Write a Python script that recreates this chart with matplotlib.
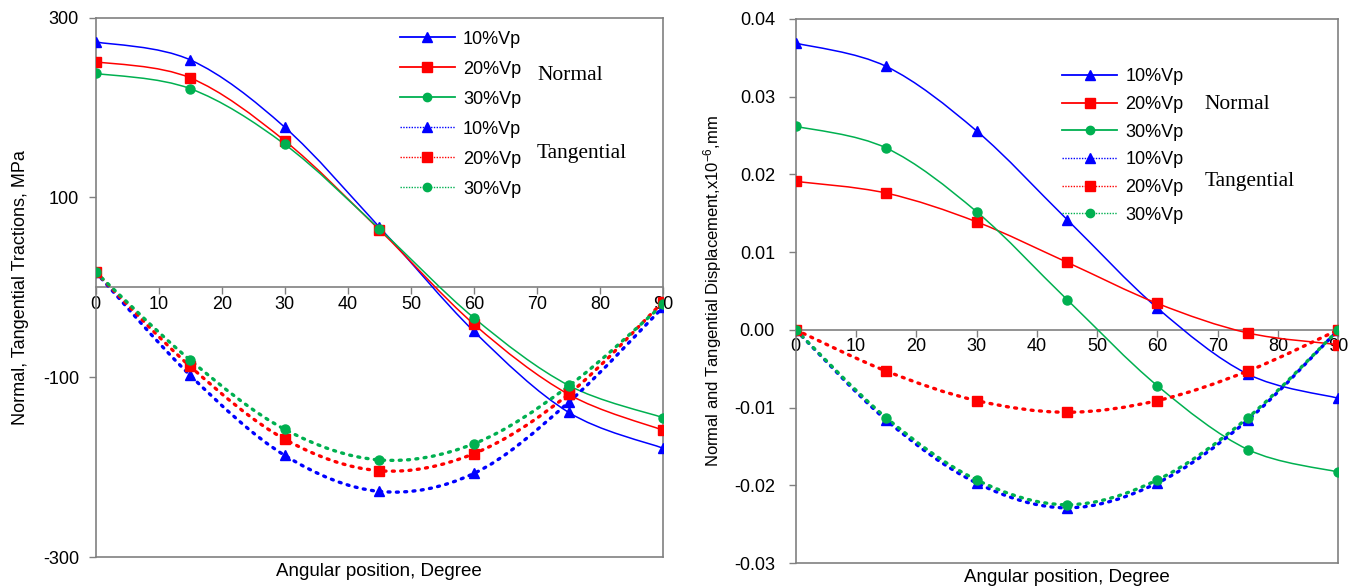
import numpy as np
import matplotlib
matplotlib.use("Agg")
import matplotlib.pyplot as plt
from matplotlib.path import Path
from matplotlib.patches import PathPatch
from matplotlib.lines import Line2D

plt.rcParams["font.family"] = ["Liberation Sans", "DejaVu Sans"]
plt.rcParams["mathtext.fontset"] = "custom"
plt.rcParams["mathtext.rm"] = "Liberation Sans"
plt.rcParams["mathtext.default"] = "regular"

# ── data ──
angle = [0, 15, 30, 45, 60, 75, 90]
labels = ["10%Vp", "20%Vp", "30%Vp"]

# left: tractions, MPa
trac_normal = [
    [273, 253, 178, 67, -49, -139, -179],
    [251, 233, 163, 64, -41, -119, -159],
    [238, 221, 159, 65, -34, -109, -145],
]
trac_tang = [
    [17, -98, -187, -227, -207, -128, -22],
    [17, -88, -169, -204, -185, -119, -16],
    [17, -81, -158, -192, -174, -110, -19],
]

# right: displacement, x1e-6 mm
disp_normal = [
    [0.0369, 0.0339, 0.0256, 0.0142, 0.0028, -0.0057, -0.0088],
    [0.0191, 0.0176, 0.0139, 0.0087, 0.0034, -0.0004, -0.0019],
    [0.0262, 0.0234, 0.0152, 0.0039, -0.0072, -0.0154, -0.0183],
]
disp_tang = [
    [0.0, -0.0116, -0.0197, -0.0229, -0.0197, -0.0116, 0.0],
    [0.0, -0.0053, -0.0091, -0.0106, -0.0091, -0.0053, 0.0],
    [0.0, -0.0113, -0.0193, -0.0225, -0.0193, -0.0113, 0.0],
]

colors = ["#0000ff", "#ff0000", "#00b050"]
markers = ["^", "s", "o"]
msizes = [7.5, 7, 6.5]
DOT = (0, (0.6, 1.9))


def smooth_path(x, y):
    """Excel-like smoothed line: cubic Bezier through the points (Catmull-Rom)."""
    p = np.column_stack([np.asarray(x, float), np.asarray(y, float)])
    n = len(p)
    verts = [p[0]]
    codes = [Path.MOVETO]
    for i in range(n - 1):
        p0 = p[i - 1] if i > 0 else p[i]
        p3 = p[i + 2] if i + 2 < n else p[i + 1]
        c1 = p[i] + (p[i + 1] - p0) / 6.0
        c2 = p[i + 1] - (p3 - p[i]) / 6.0
        verts += [c1, c2, p[i + 1]]
        codes += [Path.CURVE4] * 3
    return Path(verts, codes)


def draw_series(ax, y, color, marker, ms, dotted):
    patch = PathPatch(smooth_path(angle, y), fill=False, edgecolor=color,
                      lw=2.4 if dotted else 1.1,
                      linestyle=DOT if dotted else "-", zorder=3)
    if dotted:
        patch.set_capstyle("round")
    ax.add_patch(patch)
    ax.plot(angle, y, linestyle="none", marker=marker, ms=ms, color=color,
            mec=color, zorder=4)


def style_axes(ax, ylim, yticks, yfmt, ypad):
    ax.set_xlim(0, 90)
    ax.set_ylim(*ylim)
    for s in ax.spines.values():
        s.set_color("#808080")
        s.set_linewidth(1.2)
    ax.spines["bottom"].set_position(("data", 0))
    ax.axhline(ylim[0], color="#808080", lw=1.2, clip_on=False, zorder=1)
    ax.set_xticks(range(0, 91, 10))
    ax.set_yticks(yticks)
    ax.set_yticklabels([yfmt.format(v) for v in yticks])
    ax.tick_params(axis="x", direction="out", length=5, width=1, color="#808080",
                   labelsize=13, pad=1)
    ax.tick_params(axis="y", direction="out", length=5, width=1, color="#808080",
                   labelsize=13, pad=ypad)
    ax.text(0.5, -0.011, "Angular position, Degree", transform=ax.transAxes,
            ha="center", va="top", fontsize=13.5)


def add_legend(ax, anchor, spacing, tx, ty_norm, ty_tang):
    handles = []
    for c, m, ms in zip(colors, markers, msizes):
        handles.append(Line2D([], [], color=c, lw=1.3, marker=m, ms=ms - 0.5))
    for c, m, ms in zip(colors, markers, msizes):
        handles.append(Line2D([], [], color=c, lw=1.0, linestyle=(0, (1, 1)),
                              marker=m, ms=ms - 0.5))
    ax.legend(handles, labels + labels, loc="upper left", bbox_to_anchor=anchor,
              frameon=False, fontsize=13, handlelength=3.05, handletextpad=0.45,
              labelspacing=spacing, borderpad=0, borderaxespad=0)
    ax.text(tx, ty_norm, "Normal", transform=ax.transAxes, fontsize=15.5,
            family="Liberation Serif", va="center", ha="left")
    ax.text(tx, ty_tang, "Tangential", transform=ax.transAxes, fontsize=15.5,
            family="Liberation Serif", va="center", ha="left")


fig = plt.figure(figsize=(13.51, 5.88), dpi=100)
ax1 = fig.add_axes([0.0708, 0.0527, 0.420, 0.9173])
ax2 = fig.add_axes([0.589, 0.0425, 0.4016, 0.9252])

for i in range(3):
    draw_series(ax1, trac_normal[i], colors[i], markers[i], msizes[i], False)
for i in range(3):
    draw_series(ax1, trac_tang[i], colors[i], markers[i], msizes[i], True)
for i in range(3):
    draw_series(ax2, disp_normal[i], colors[i], markers[i], msizes[i], False)
for i in range(3):
    draw_series(ax2, disp_tang[i], colors[i], markers[i], msizes[i], True)

style_axes(ax1, (-300, 300), [-300, -100, 100, 300], "{:d}", 7)
style_axes(ax2, (-0.03, 0.04), [-0.03, -0.02, -0.01, 0.0, 0.01, 0.02, 0.03, 0.04],
           "{:.2f}", 10)

ax1.set_ylabel("Normal, Tangential Tractions, MPa", fontsize=13, labelpad=10)
ax2.set_ylabel("Normal and Tangential Displacement,x10$^{-6}$,mm", fontsize=12,
               labelpad=7)

add_legend(ax1, (0.536, 0.976), 0.72, 0.778, 0.893, 0.748)
add_legend(ax2, (0.491, 0.909), 0.59, 0.754, 0.843, 0.701)

fig.savefig("out.png", dpi=100)
